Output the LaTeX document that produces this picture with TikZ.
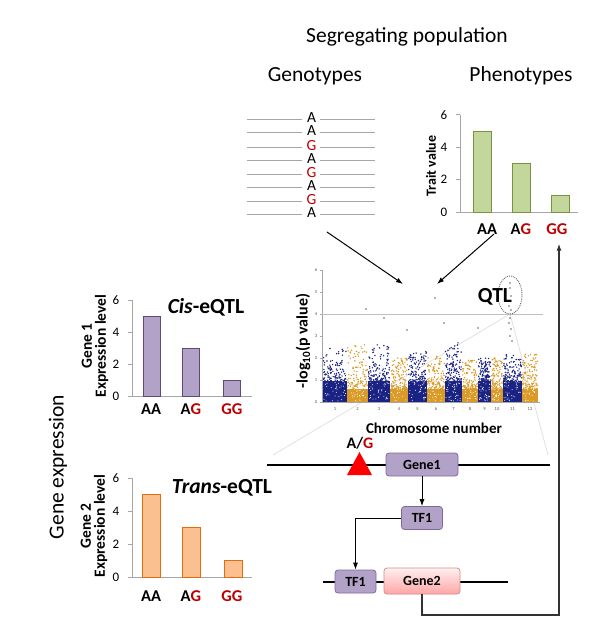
\documentclass[tikz,border=0pt]{standalone}
\usepackage{fontspec}
\setmainfont{Carlito}
\usetikzlibrary{arrows.meta,positioning}

\definecolor{snpred}{HTML}{C00000}
\definecolor{axisgray}{HTML}{A6A6A6}
\definecolor{greenfill}{HTML}{C3D69B}
\definecolor{greenline}{HTML}{77933C}
\definecolor{purplefill}{HTML}{B3A2C7}
\definecolor{purpleline}{HTML}{604A7B}
\definecolor{orangefill}{HTML}{FAC090}
\definecolor{orangeline}{HTML}{E46C0A}
\definecolor{mnavy}{HTML}{1A2384}
\definecolor{morange}{HTML}{D99A26}
\definecolor{boxline}{HTML}{7F6A9F}
\definecolor{pinkline}{HTML}{D98E8E}

\begin{document}
\begin{tikzpicture}[x=1pt,y=-1pt,
  every node/.style={inner sep=0pt},
  head/.style={font=\fontsize{21.5}{24}\selectfont},
  bighead/.style={font=\bfseries\fontsize{21.5}{24}\selectfont},
  axisln/.style={draw=axisgray,line width=0.8pt},
  ticklab/.style={font=\fontsize{13}{14}\selectfont},
  catlab/.style={font=\bfseries\fontsize{16.5}{18}\selectfont},
  ylab/.style={rotate=90,align=center,font=\bfseries\fontsize{15.5}{14}\selectfont},
  snplet/.style={font=\fontsize{15.5}{15.5}\selectfont,text height=9pt,text depth=0pt},
  gbar/.style={fill=greenfill,draw=greenline,line width=1pt},
  pbar/.style={fill=purplefill,draw=purpleline,line width=1pt},
  obar/.style={fill=orangefill,draw=orangeline,line width=1pt},
  genebox/.style={draw=boxline,fill=purplefill,rounded corners=3pt,line width=0.8pt,
    minimum height=23pt,font=\bfseries\fontsize{14}{16}\selectfont},
  chrline/.style={line width=2.8pt},
  link/.style={line width=1pt,-{Latex[length=7pt,width=5pt]}},
  tiny/.style={font=\fontsize{4.5}{5}\selectfont,text=black!70}
]
\useasboundingbox (0,0) rectangle (600,625);

% headings
\node[head] (segpop) at (407,37) {Segregating population};
\node[head] (genohead) at (315,76) {Genotypes};
\node[head] (phenohead) at (521,76) {Phenotypes};
\node[head,rotate=90] (geneexpr) at (58,467) {Gene expression};

% genotypes
\foreach \y/\l/\c in {119.3/A/black,132.3/A/black,146.7/G/snpred,160/A/black,
                      174/G/snpred,187.3/A/black,200.7/G/snpred,214/A/black} {
  \draw[axisgray] (247,\y) -- (302,\y);
  \draw[axisgray] (320,\y) -- (375,\y);
  \node[snplet,text=\c] at (311.5,\y-1) {\l};
}
\coordinate (genoout) at (327,232);

% phenotypes chart
\draw[axisln] (460,115) -- (460,212) -- (578,212);
\foreach \v in {0,2,4,6} {
  \draw[axisln] (456,{212-16.2*\v}) -- (460,{212-16.2*\v});
  \node[ticklab] at (444,{212-16.2*\v}) {\v};
}
\foreach \x/\v in {482/5,521/3,560/1}
  \draw[gbar] (\x-9,212) rectangle (\x+9,{212-16.2*\v});
\node[catlab] (pAA) at (487,229) {AA};
\node[catlab] (pAG) at (521,229) {A\textcolor{snpred}{G}};
\node[catlab,text=snpred] (pGG) at (557,229) {GG};
\node[ylab,font=\bfseries\fontsize{14}{14}\selectfont] (traitlab) at (431,166) {Trait value};
\coordinate (phenoout) at (494,234);

% cis chart
\draw[axisln] (132,300) -- (132,396) -- (252,396);
\foreach \v in {0,2,4,6} {
  \draw[axisln] (128,{396-16*\v}) -- (132,{396-16*\v});
  \node[ticklab] at (116,{396-16*\v}) {\v};
}
\foreach \x/\v in {151.5/5,191/3,231.5/1}
  \draw[pbar] (\x-8.5,396) rectangle (\x+8.5,{396-16*\v});
\node[catlab] (cAA) at (151,409) {AA};
\node[catlab] (cAG) at (191,409) {A\textcolor{snpred}{G}};
\node[catlab,text=snpred] (cGG) at (232,409) {GG};
\node[ylab] (cislab) at (95,346) {Gene 1\\Expression level};
\node[bighead] (cistitle) at (206,307) {\textit{Cis}-eQTL};

% trans chart
\draw[axisln] (132,478) -- (132,577) -- (252,577);
\foreach \v in {0,2,4,6} {
  \draw[axisln] (128,{577-16.5*\v}) -- (132,{577-16.5*\v});
  \node[ticklab] at (116,{577-16.5*\v}) {\v};
}
\foreach \x/\v in {151.5/5,191.5/3,233/1}
  \draw[obar] (\x-9,577) rectangle (\x+9,{577-16.5*\v});
\node[catlab] (tAA) at (151,596) {AA};
\node[catlab] (tAG) at (191,596) {A\textcolor{snpred}{G}};
\node[catlab,text=snpred] (tGG) at (232,596) {GG};
\node[ylab] (translab) at (94,526) {Gene 2\\Expression level};
\node[bighead] (transtitle) at (222,488) {\textit{Trans}-eQTL};

% manhattan plot
\coordinate (peak) at (510,314);
\draw[black!12,line width=0.8pt] (peak) -- (273,455);
\draw[black!12,line width=0.8pt] (peak) -- (548,455);
\pgfmathsetseed{11}
% from/to/colour/label/solid part/highest point
\foreach \a/\b/\c/\n/\s/\m in {323/347/mnavy/1/0.95/2.5,347/368/morange/2/0.6/2.6,
    368/390/mnavy/3/0.95/2.6,390/408/morange/4/0.6/2.0,408/427/mnavy/5/0.95/2.3,
    427/445/morange/6/0.6/2.1,445/462/mnavy/7/0.95/2.7,462/478/morange/8/0.6/1.9,
    478/491/mnavy/9/0.95/2.0,491/503/morange/10/0.6/2.0,503/522/mnavy/11/0.95/2.2,
    522/538/morange/12/0.6/2.3} {
  \fill[\c] (\a,402) rectangle (\b,{402-22*\s});
  \foreach \k in {1,...,170} {
    \pgfmathsetmacro\px{\a+0.5+rnd*(\b-\a-1)}
    \pgfmathsetmacro\py{402-22*(\s-0.1+rnd^2.6*(\m-\s+0.1))}
    \fill[\c] (\px,\py) circle[radius=0.8pt];
  }
  \foreach \k in {1,...,45} {
    \pgfmathsetmacro\px{\a+1+rnd*(\b-\a-2)}
    \pgfmathsetmacro\py{401-rnd*26}
    \fill[white] (\px,\py) circle[radius=0.5pt];
  }
  \node[tiny] at ({(\a+\b)/2},409) {\n};
}
\foreach \px/\py in {366/309,384/318,407/330,435/298,444/323,478/328,
    510/283,510/288,511/296,510/301,509/306,511/310,510/318,509/323,511/329,510/336,512/341}
  \fill[black!60] (\px,\py) circle[radius=0.8pt];
\draw[axisgray,line width=0.5pt] (322,270) -- (322,402) -- (540,402);
\foreach \v in {0,...,6} {
  \draw[axisgray,line width=0.4pt] (320,{402-22*\v}) -- (322,{402-22*\v});
  \node[tiny] at (316,{402-22*\v}) {\v};
}
\draw[black!25,line width=1pt] (322,314) -- (543,314);
\draw[black!60,densely dotted,line width=0.9pt] (510,295) ellipse[x radius=12pt,y radius=19pt];
\node[bighead] (qtl) at (495,297) {QTL};
\node[font=\bfseries\fontsize{15}{16}\selectfont] (chrnum) at (434,428) {Chromosome number};
\node[font=\bfseries\fontsize{16}{16}\selectfont,rotate=90] (pvlab) at (303,341) {-log\textsubscript{10}(p value)};
\coordinate (plotin1) at (403,284);
\coordinate (plotin2) at (437,284);
\draw[link] (genoout) -- (plotin1);
\draw[link] (phenoout) -- (plotin2);

% gene regulation
\coordinate (chrA) at (267,465);
\coordinate (chrB) at (550,465);
\coordinate (chrC) at (323,582);
\coordinate (chrD) at (508,582);
\draw[chrline] (chrA) -- (chrB);
\draw[chrline] (chrC) -- (chrD);
\fill[red] (347,475) -- (372,475) -- (359.5,452) -- cycle;
\node[font=\bfseries\fontsize{16}{18}\selectfont] (snp) at (360,443) {A/\textcolor{snpred}{G}};
\node[genebox,minimum width=72pt] (gene1) at (422,464.5) {Gene1};
\node[genebox,minimum width=41pt] (tf1) at (422,518) {TF1};
\node[genebox,minimum width=41pt] (tf1b) at (355.5,581.5) {TF1};
\node[genebox,minimum width=76pt,minimum height=26pt,draw=pinkline,
      top color=red!6,bottom color=red!35] (gene2) at (422,581) {Gene2};
\draw[link,line width=0.8pt] (gene1) -- (tf1);
\draw[link,line width=0.8pt] (tf1.west) -| (tf1b.north);
\coordinate (loopc) at (559,615);
\draw[link,black!80,line width=1.5pt,shorten >=9pt] (gene2.south) |- (loopc) -- (loopc |- pGG.south);
\end{tikzpicture}
\end{document}
